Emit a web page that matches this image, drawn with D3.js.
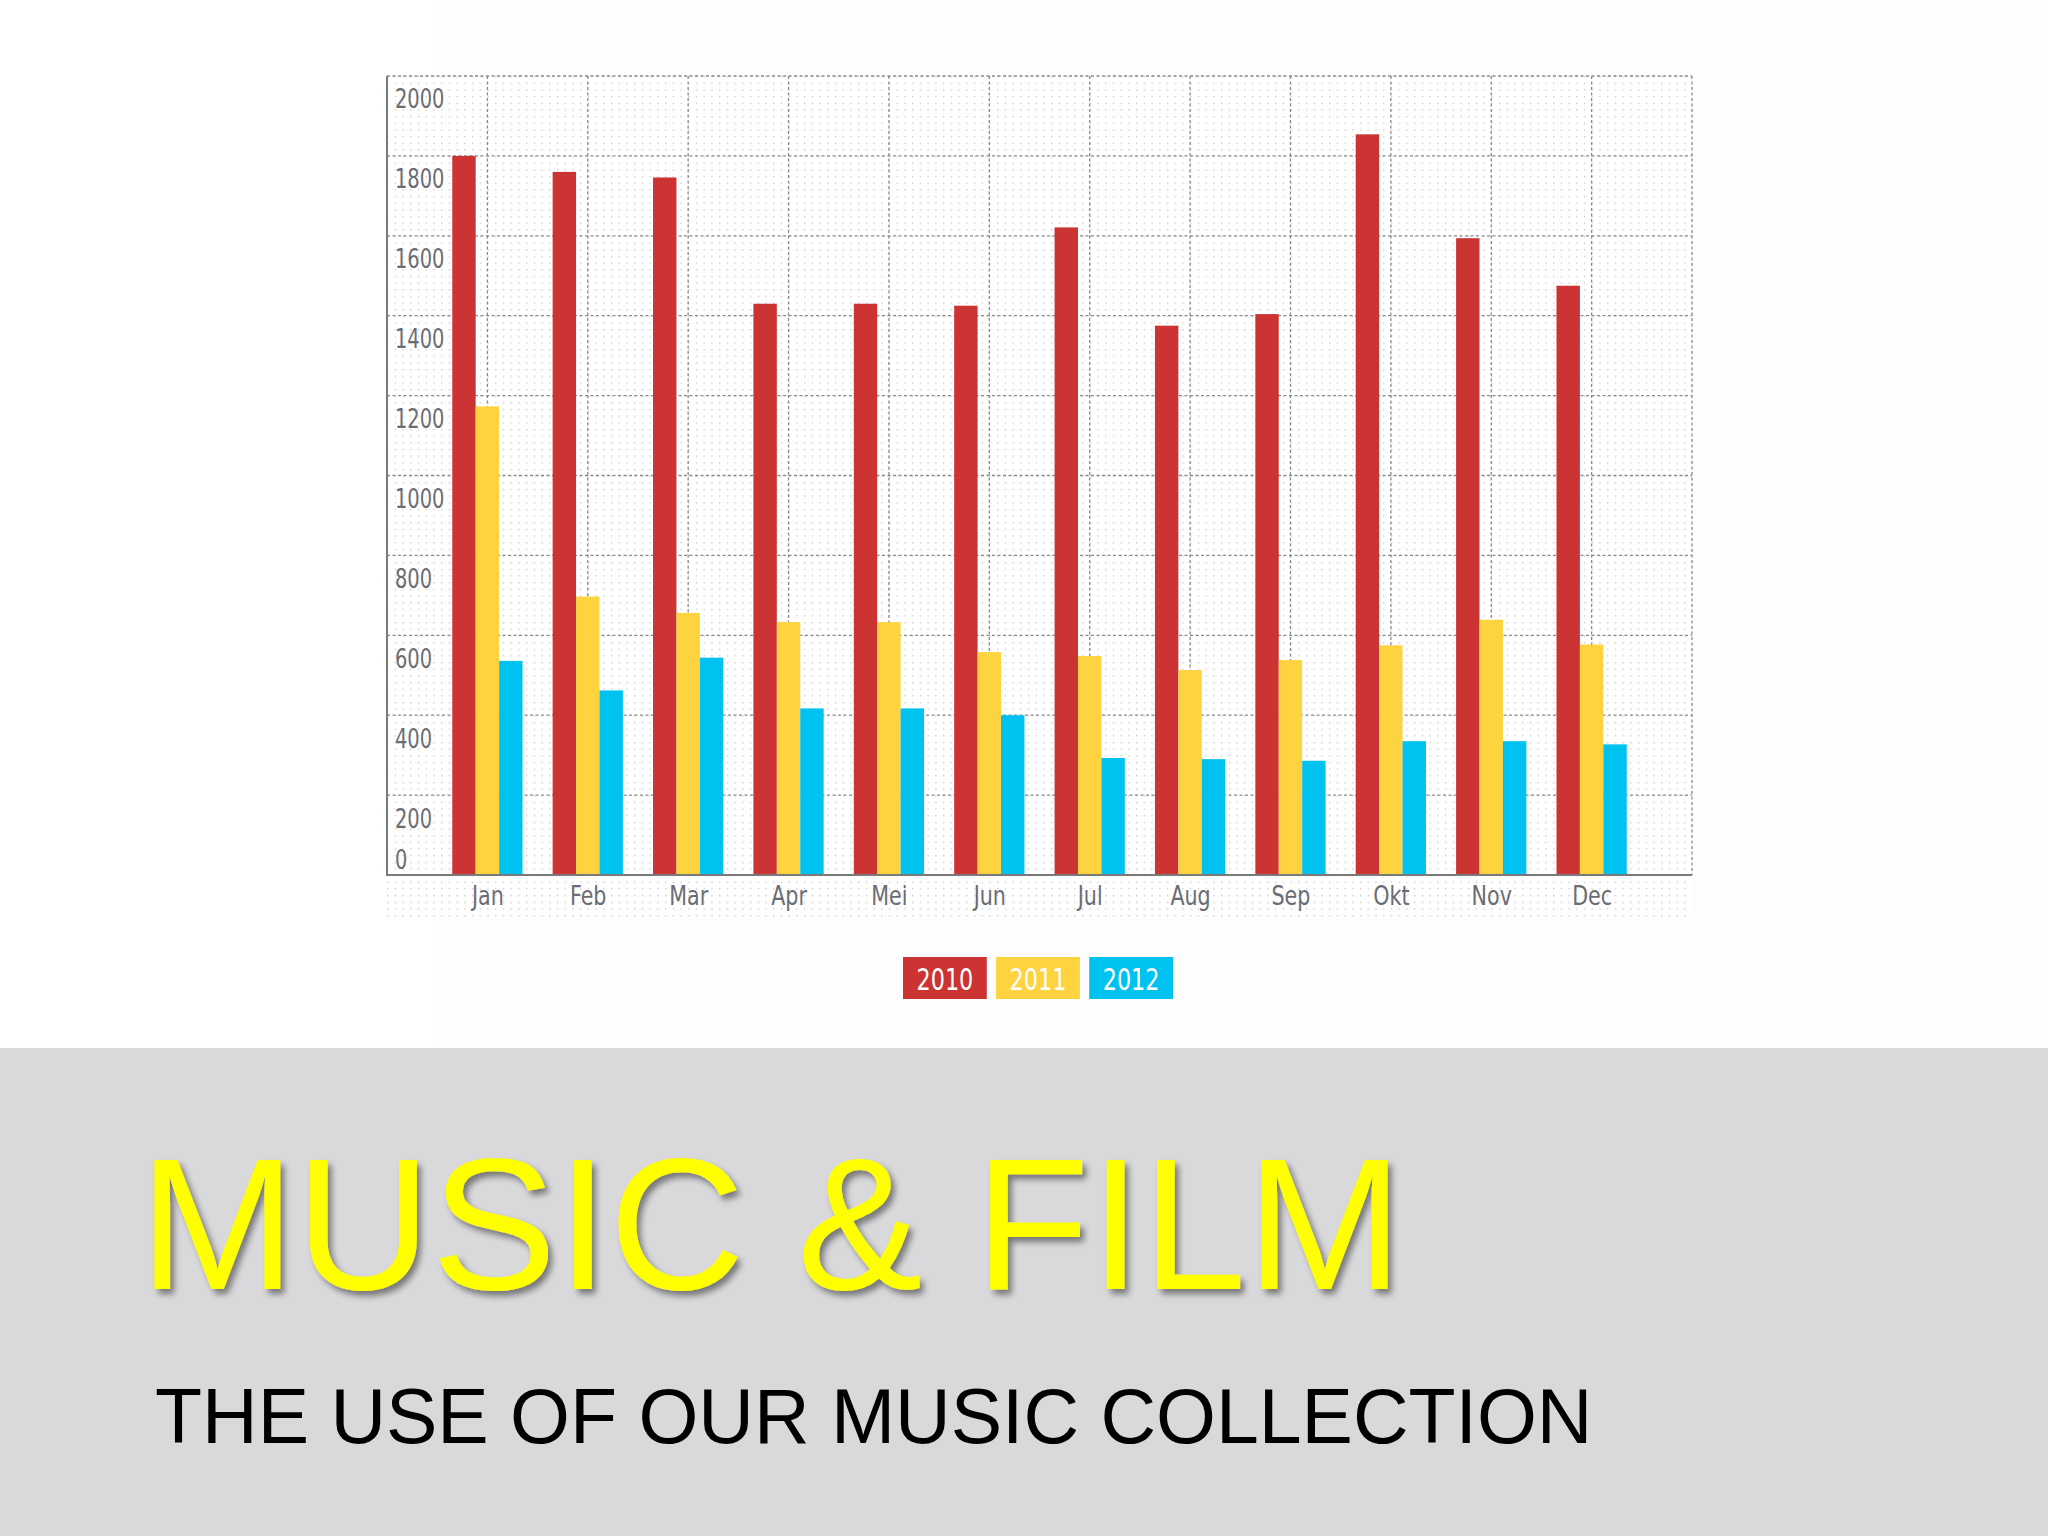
<!DOCTYPE html>
<html>
<head>
<meta charset="utf-8">
<script src="https://cdn.jsdelivr.net/npm/d3@7"></script>
<style>
  html, body { margin: 0; padding: 0; background: #ffffff; }
  svg { display: block; }
</style>
</head>
<body>
<svg id="chart" width="2048" height="1536"></svg>
<script>
const months = ["Jan","Feb","Mar","Apr","Mei","Jun","Jul","Aug","Sep","Okt","Nov","Dec"];
const years = ["2010","2011","2012"];
const values2010 = [1800,1760,1746,1430,1430,1425,1621,1375,1404,1854,1594,1475];
const values2011 = [1173,697,656,633,633,558,548,513,538,575,639,577];
const values2012 = [536,462,544,417,417,400,293,290,286,335,335,327];
const yTicks = [0,200,400,600,800,1000,1200,1400,1600,1800,2000];
const seriesColors = ["#cc3434","#fdd340","#00c2f0"];
const title = "MUSIC & FILM";
const subtitle = "THE USE OF OUR MUSIC COLLECTION";

const series = [values2010, values2011, values2012];
const svg = d3.select("#chart");
const L = 387, R = 1692, T = 76, B = 875, LB = 918;
const narrow = "'Liberation Sans Narrow','DejaVu Sans Condensed','Roboto Condensed',sans-serif";

const x0 = d3.scalePoint().domain(months).range([L, R]).padding(1);
const step = x0.step();
const groupW = step * 0.7;
const x1 = d3.scaleBand().domain(years).range([-groupW/2, groupW/2]);
const y = d3.scaleLinear().domain([0, 2000]).range([B, T]);

// backgrounds
svg.append("rect").attr("x",0).attr("y",0).attr("width",2048).attr("height",1048).attr("fill","#ffffff");
svg.append("rect").attr("x",432).attr("y",0).attr("width",1616).attr("height",1048).attr("fill","#fdfdfd");
svg.append("rect").attr("x",0).attr("y",1048).attr("width",2048).attr("height",488).attr("fill","#d9d8da");

// fine dot pattern
const defs = svg.append("defs");
const pw = step / 13, ph = (y(0) - y(200)) / 12;
const pat = defs.append("pattern").attr("id","dots").attr("patternUnits","userSpaceOnUse")
  .attr("x", L).attr("y", T).attr("width", pw).attr("height", ph);
pat.append("rect").attr("x",0).attr("y",0).attr("width",1.3).attr("height",1.3).attr("fill","#c4c4c4");
svg.append("rect").attr("x",L-2).attr("y",T).attr("width",R-L+2).attr("height",LB-T).attr("fill","#ffffff");
svg.append("rect").attr("x",L-2).attr("y",T).attr("width",R-L+2).attr("height",LB-T).attr("fill","url(#dots)");

const sh = defs.append("filter").attr("id","shadow").attr("x","-10%").attr("y","-10%").attr("width","120%").attr("height","130%");
sh.append("feDropShadow").attr("dx",4).attr("dy",5).attr("stdDeviation",3).attr("flood-color","#000").attr("flood-opacity",0.45);

// major grid
const grid = svg.append("g");
grid.selectAll("line.h").data(yTicks.filter(d => d > 0)).join("line")
  .attr("x1", L).attr("x2", R).attr("y1", d => y(d)).attr("y2", d => y(d))
  .attr("stroke","#8a8a8a").attr("stroke-width",1.3).attr("stroke-dasharray","3,2.5");
grid.selectAll("line.v").data(months).join("line")
  .attr("x1", d => x0(d)).attr("x2", d => x0(d)).attr("y1", T).attr("y2", B)
  .attr("stroke","#8a8a8a").attr("stroke-width",1.3).attr("stroke-dasharray","3,2.5");
grid.append("line").attr("x1",R).attr("x2",R).attr("y1",T).attr("y2",B)
  .attr("stroke","#8a8a8a").attr("stroke-width",1.3).attr("stroke-dasharray","3,2.5");

// bars
const bars = svg.append("g");
years.forEach((yr, si) => {
  bars.selectAll("rect.s" + si).data(series[si]).join("rect")
    .attr("x", (d, i) => x0(months[i]) + x1(yr))
    .attr("width", x1.bandwidth())
    .attr("y", d => y(d))
    .attr("height", d => y(0) - y(d))
    .attr("fill", seriesColors[si]);
});

// axes lines
svg.append("line").attr("x1",L).attr("x2",L).attr("y1",T).attr("y2",B+1).attr("stroke","#7a7a7a").attr("stroke-width",2);
svg.append("line").attr("x1",L).attr("x2",R).attr("y1",B).attr("y2",B).attr("stroke","#7a7a7a").attr("stroke-width",2);

// y labels (hanging below their grid line, inside the plot)
const yAxis = svg.append("g").attr("transform", `translate(${L},0)`)
  .call(d3.axisRight(y).tickValues(yTicks).tickFormat(d3.format("d")).tickSize(0).tickPadding(0));
yAxis.select(".domain").remove();
yAxis.selectAll("text")
  .attr("x", 0)
  .attr("dy", d => d === 0 ? "-7px" : "32px")
  .attr("transform", "translate(8,0) scale(0.8,1)")
  .attr("fill","#6a6c74").attr("font-size", 27).attr("font-family", narrow);

// x labels
const xAxis = svg.append("g").attr("transform", `translate(0,${B})`)
  .call(d3.axisBottom(x0).tickSize(0).tickPadding(0));
xAxis.select(".domain").remove();
xAxis.selectAll("text")
  .attr("y", 0).attr("dy", "30px")
  .attr("transform", "scale(0.85,1)")
  .attr("fill","#6a6c74").attr("font-size", 27).attr("font-family", narrow);

// legend
const legend = svg.append("g");
const lx = d3.scaleBand().domain(years).range([903, 1173]).paddingInner(0.1);
years.forEach((yr, i) => {
  legend.append("rect").attr("x", lx(yr)).attr("y", 957).attr("width", lx.bandwidth()).attr("height", 42).attr("fill", seriesColors[i]);
  legend.append("text")
    .attr("transform", `translate(${lx(yr) + lx.bandwidth()/2},990) scale(0.8,1)`)
    .attr("text-anchor","middle")
    .attr("fill","#ffffff").attr("font-size", 31).attr("font-family", narrow).text(yr);
});

// titles
svg.append("text").attr("x", 139).attr("y", 1289).attr("font-family","'Liberation Sans',Arial,sans-serif")
  .attr("font-size", 188).attr("fill","#ffff00").attr("filter","url(#shadow)").text(title);
svg.append("text").attr("x", 155).attr("y", 1443).attr("font-family","'Liberation Sans',Arial,sans-serif")
  .attr("font-size", 77).attr("fill","#000000").text(subtitle);
</script>
</body>
</html>
